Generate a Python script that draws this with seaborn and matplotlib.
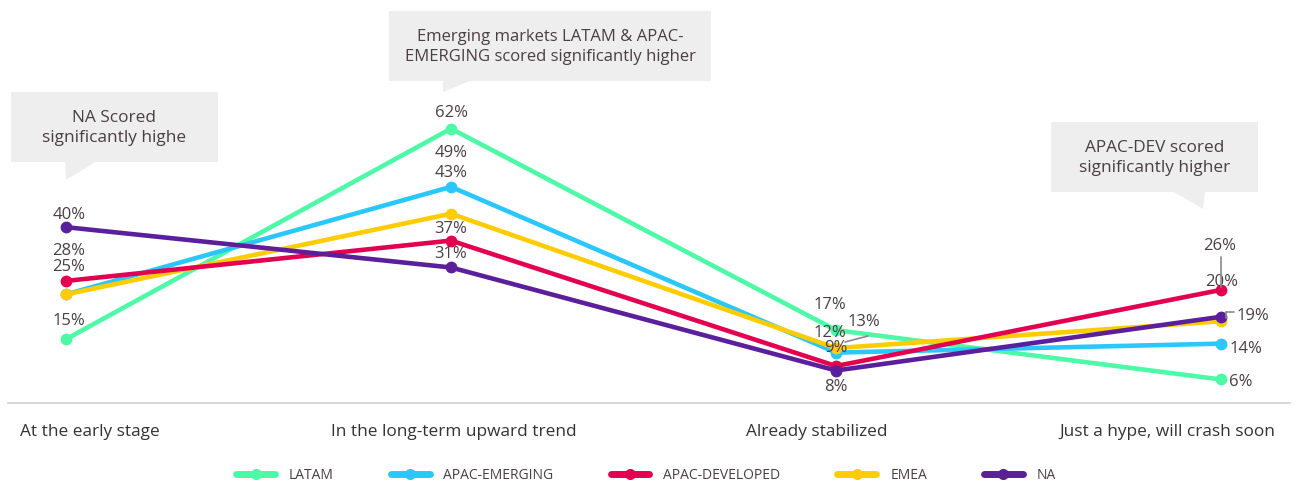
import matplotlib
matplotlib.use("Agg")
import matplotlib.pyplot as plt
import seaborn as sns
import pandas as pd
from matplotlib.patches import Polygon, Rectangle
from matplotlib.lines import Line2D

categories = ["At the early stage", "In the long-term upward trend",
              "Already stabilized", "Just a hype, will crash soon"]
regions = ["LATAM", "APAC-EMERGING", "APAC-DEVELOPED", "EMEA", "NA"]
latam = [15, 62, 17, 6]
apac_emerging = [25, 49, 12, 14]
apac_developed = [28, 37, 9, 26]
emea = [25, 43, 13, 19]
na = [40, 31, 8, 20]
callouts = ["NA Scored\nsignificantly highe",
            "Emerging markets LATAM & APAC-\nEMERGING scored significantly higher",
            "APAC-DEV scored\nsignificantly higher"]

colors = {"LATAM": "#4DF9A6", "APAC-EMERGING": "#2AC8FA", "APAC-DEVELOPED": "#E3004F",
          "EMEA": "#FFCC00", "NA": "#5C1F9C"}
series = {"LATAM": latam, "APAC-EMERGING": apac_emerging, "APAC-DEVELOPED": apac_developed,
          "EMEA": emea, "NA": na}

rows = []
for r in regions:
    for i, c in enumerate(categories):
        rows.append({"region": r, "pos": i, "category": c, "value": series[r][i]})
df = pd.DataFrame(rows)

sns.set_theme(style="white")
plt.rcParams["font.family"] = ["Open Sans", "DejaVu Sans"]
TXT = "#4a3f43"

W, H = 1303, 485
fig = plt.figure(figsize=(W / 100, H / 100), dpi=100)
ax = fig.add_axes([8 / W, (H - 404) / H, (1290 - 8) / W, 404 / H])

draw_order = ["LATAM", "APAC-EMERGING", "EMEA", "APAC-DEVELOPED", "NA"]
for r in draw_order:
    sub = df[df.region == r]
    sns.lineplot(data=sub, x="pos", y="value", color=colors[r], linewidth=3.3,
                 marker="o", markersize=8.5, markeredgewidth=0, ax=ax, legend=False)

ax.set_xlim(-0.1506, 3.179)
ax.set_ylim(0.75, 0.75 + 404 / 4.48)
ax.set_xlabel("")
ax.set_ylabel("")
ax.set_xticks([])
ax.set_yticks([])
for s in ["top", "left", "right"]:
    ax.spines[s].set_visible(False)
ax.spines["bottom"].set_color("#cfcfcf")
ax.spines["bottom"].set_linewidth(1.2)

# value labels: offsets in pixels (dx, dy)
offsets = {
    "LATAM": [(3, 19), (0, 17), (-6, 26), (20, -2)],
    "APAC-EMERGING": [None, (0, 35), (-6, 21), (25, -4)],
    "APAC-DEVELOPED": [(3, 31), (0, 13), (0, 19), (-1, 45)],
    "EMEA": [(3, 28), (0, 42), (28, 27), (32, 6)],
    "NA": [(3, 13), (0, 14), (0, -15), (1, 36)],
}
for r in regions:
    for i, v in enumerate(series[r]):
        off = offsets[r][i]
        if off is None:
            continue
        ax.annotate(f"{v}%", (i, v), xytext=off, textcoords="offset pixels",
                    ha="center", va="center", fontsize=12, color=TXT)

# leader lines (pixel coordinates)
def px_line(x0, y0, x1, y1):
    fig.add_artist(Line2D([x0 / W, x1 / W], [1 - y0 / H, 1 - y1 / H],
                          color="#8a8a8a", linewidth=1.2, transform=fig.transFigure))

px_line(868, 337, 845, 343)
px_line(1221, 258, 1221, 288)
px_line(1226, 313, 1234, 313)
px_line(1226, 313, 1226, 319)

# category labels
label_x = [90, 454, 817, 1167]
for cx, c in zip(label_x, categories):
    fig.text(cx / W, 1 - 432 / H, c, ha="center", va="center", fontsize=12.4, color="#333333")

# callout boxes
def callout(x0, y0, x1, y1, tail, text, fs):
    fig.add_artist(Rectangle((x0 / W, 1 - y1 / H), (x1 - x0) / W, (y1 - y0) / H,
                             transform=fig.transFigure, facecolor="#eeeeee",
                             edgecolor="none", zorder=0.5))
    fig.add_artist(Polygon([(px / W, 1 - py / H) for px, py in tail], closed=True,
                           transform=fig.transFigure, facecolor="#eeeeee",
                           edgecolor="none", zorder=0.5))
    fig.text((x0 + x1) / 2 / W, 1 - (y0 + y1) / 2 / H, text, ha="center", va="center",
             fontsize=fs, color=TXT, linespacing=1.4, zorder=3)

callout(11, 93, 218, 163, [(65, 162), (97, 162), (66, 181)], callouts[0], 12.4)
callout(389, 12, 711, 82, [(443, 81), (472, 81), (443, 93)], callouts[1], 12.0)
callout(1051, 123, 1258, 193, [(1172, 192), (1205, 192), (1203, 210)], callouts[2], 12.4)

# legend
handles = [Line2D([0], [0], color=colors[r], linewidth=5, marker="o", markersize=7,
                  solid_capstyle="round") for r in regions]
fig.legend(handles, regions, loc="center", bbox_to_anchor=(646 / W, 1 - 476 / H), ncol=5,
           frameon=False, fontsize=10, handlelength=2.8, columnspacing=4.1, handletextpad=1.0,
           labelcolor=TXT)

fig.savefig("out.png", dpi=100)
